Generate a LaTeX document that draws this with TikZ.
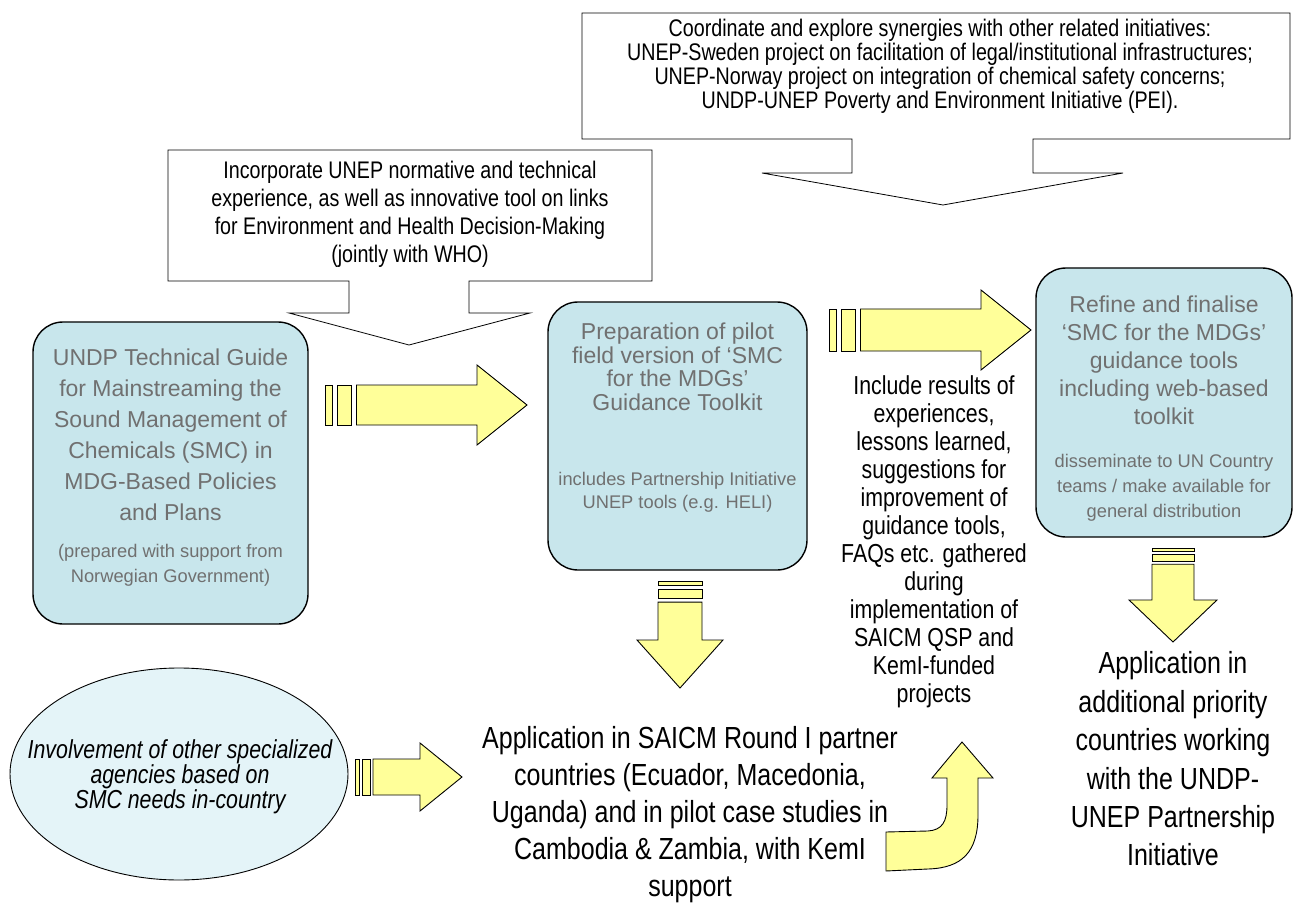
\documentclass[tikz,border=0pt]{standalone}
\usepackage{fontspec}
\setmainfont{Liberation Sans}
\newfontfamily\narrowfont[FakeStretch=0.82]{Liberation Sans}
\usetikzlibrary{shapes.geometric}
\definecolor{boxblue}{RGB}{200,230,236}
\definecolor{ovalblue}{RGB}{228,244,248}
\definecolor{arrowyellow}{RGB}{255,255,153}
\definecolor{boxtext}{RGB}{112,112,112}
\tikzset{
  stage/.style={draw, line width=1.4pt, rounded corners=30pt, fill=boxblue, inner sep=0pt},
  stagetitle/.style={align=center, inner sep=0pt, text=boxtext},
  stagenote/.style={align=center, inner sep=0pt, text=boxtext, font=\fontsize{18.3}{25}\selectfont},
  callout/.style={draw, fill=white, line width=0.8pt},
  blockarrow/.style={draw, fill=arrowyellow, line width=0.9pt},
  say/.style={align=center, inner sep=0pt, font=\narrowfont\fontsize{30.5}{37}\selectfont},
  oval/.style={ellipse, draw, line width=0.9pt, fill=ovalblue, inner sep=0pt}
}
\newcommand{\stripearrow}[7]{%
  \begin{scope}[shift={#1}, rotate=#2]
    \draw[blockarrow] (0,-#5) rectangle (#7,#5);
    \draw[blockarrow] (1.75*#7,-#5) rectangle (3.75*#7,#5);
    \draw[blockarrow] (4.5*#7,-#5) -- (#3-#4,-#5) -- (#3-#4,-#6) -- (#3,0)
      -- (#3-#4,#6) -- (#3-#4,#5) -- (4.5*#7,#5) -- cycle;
  \end{scope}}
\begin{document}
\begin{tikzpicture}[x=1pt, y=-1pt]
  \useasboundingbox (0,0) rectangle (1293,909);

  \draw[callout] (582,13) -- (1290,13) -- (1290,139) -- (1033,139) -- (1033,173)
    -- (1123,173) -- (943,205) -- (762,173) -- (852,173) -- (852,139) -- (582,139) -- cycle;
  \node[align=center, inner sep=0pt, font=\narrowfont\fontsize{24}{24}\selectfont] (synergies) at (940,66)
    {Coordinate and explore synergies with other related initiatives:\\
     UNEP-Sweden project on facilitation of legal/institutional infrastructures;\\
     UNEP-Norway project on integration of chemical safety concerns;\\
     UNDP-UNEP Poverty and Environment Initiative (PEI).};

  \draw[callout] (168,150) -- (652,150) -- (652,281) -- (469,281) -- (469,313)
    -- (530,313) -- (409,345) -- (289,313) -- (349,313) -- (349,281) -- (168,281) -- cycle;
  \node[align=center, inner sep=0pt, font=\narrowfont\fontsize{24}{28}\selectfont] (incorporate) at (410,214)
    {Incorporate UNEP normative and technical\\
     experience, as well as innovative tool on links\\
     for Environment and Health Decision-Making\\
     (jointly with WHO)};

  \node[stage, minimum width=275pt, minimum height=302pt] (guide) at (170.5,473) {};
  \node[stagetitle, font=\fontsize{23}{31}\selectfont] (guidetitle) at (170.5,435)
    {UNDP Technical Guide\\for Mainstreaming the\\Sound Management of\\Chemicals (SMC) in\\MDG-Based Policies\\and Plans};
  \node[stagenote] (guidenote) at (170.5,565) {(prepared with support from\\Norwegian Government)};

  \node[stage, minimum width=259pt, minimum height=268pt] (pilot) at (677.5,436) {};
  \node[stagetitle, font=\fontsize{23}{23.5}\selectfont] (pilottitle) at (677.5,367)
    {Preparation of pilot\\field version of ‘SMC\\for the MDGs’\\Guidance Toolkit};
  \node[stagenote, font=\fontsize{18.3}{23}\selectfont] (pilotnote) at (677.5,492)
    {includes Partnership Initiative\\UNEP tools (e.g. HELI)};

  \node[stage, minimum width=256pt, minimum height=269pt] (refine) at (1164,402.5) {};
  \node[stagetitle, font=\fontsize{23}{28}\selectfont] (refinetitle) at (1164,360)
    {Refine and finalise\\‘SMC for the MDGs’\\guidance tools\\including web-based\\toolkit};
  \node[stagenote] (refinenote) at (1164,488)
    {disseminate to UN Country\\teams / make available for\\general distribution};

  \node[oval, minimum width=338pt, minimum height=212pt] (agencies) at (179,774) {};
  \node[align=center, inner sep=0pt, font=\narrowfont\itshape\fontsize{26}{25}\selectfont] (agenciestext) at (180,777)
    {Involvement of other specialized\\agencies based on\\SMC needs in-country};

  \node[say, font=\narrowfont\fontsize{26}{28}\selectfont] (lessons) at (934,542)
    {Include results of\\experiences,\\lessons learned,\\suggestions for\\improvement of\\guidance tools,\\FAQs etc. gathered\\during\\implementation of\\SAICM QSP and\\KemI-funded\\projects};
  \node[say] (roundone) at (690,815)
    {Application in SAICM Round I partner\\countries (Ecuador, Macedonia,\\Uganda) and in pilot case studies in\\Cambodia \& Zambia, with KemI\\support};
  \node[say, font=\narrowfont\fontsize{30.5}{38.4}\selectfont] (priority) at (1173,759)
    {Application in\\additional priority\\countries working\\with the UNDP-\\UNEP Partnership\\Initiative};

  \stripearrow{(325,405)}{0}{202}{50}{20}{40}{7}
  \stripearrow{(829,330)}{0}{202}{50}{21}{40}{7}
  \stripearrow{(680,581)}{-90}{107}{48}{22}{43}{4.7}
  \stripearrow{(1173,548)}{-90}{94}{42}{21}{44}{3.6}
  \stripearrow{(355,777)}{0}{107}{42}{18}{34}{4}

  \draw[blockarrow] (886,832) -- (928,831) .. controls (942,830) and (947,822) .. (947,805)
    -- (947,778) -- (932,778) -- (962,742) -- (993,778) -- (978,778) -- (978,815)
    .. controls (978,852) and (962,868) .. (928,869) -- (886,871) -- cycle;
\end{tikzpicture}
\end{document}
